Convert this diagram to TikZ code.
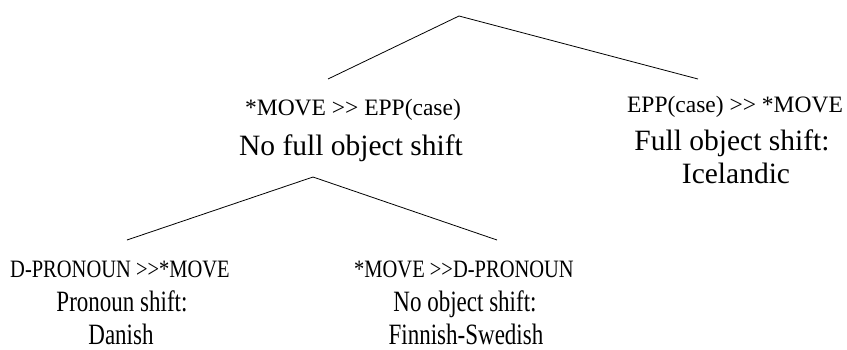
\documentclass[tikz,border=0pt]{standalone}
\usepackage{fontspec}
\setmainfont{Liberation Serif}
\usetikzlibrary{positioning}
\tikzstyle{ranking}=[font=\fontsize{23.5}{28}\selectfont, inner sep=0pt, anchor=base]
\tikzstyle{result}=[font=\fontsize{29.5}{33}\selectfont, inner sep=0pt, anchor=base]
\tikzstyle{branch} = [draw, line width=0.8pt]
\newcommand{\narrow}[2]{\scalebox{#1}[1]{#2}}
\begin{document}
\begin{tikzpicture}[x=1pt, y=-1pt]
  \useasboundingbox (0,0) rectangle (847,349);

  % upper split
  \coordinate (root) at (459,16);
  \coordinate (Lend) at (328,79);
  \coordinate (Rend) at (698,79);

  \node[ranking] (Lrank) at (353,115) {*MOVE >{}> EPP(case)};
  \node[result] (Lres) at (351,155) {No full object shift};

  \node[ranking] (Rrank) at (735,112) {EPP(case) >{}> *MOVE};
  \node[result] (Rres) at (732,150) {Full object shift:};
  \node[result] (Rlang) at (736,183) {Icelandic};

  % lower split
  \coordinate (mid) at (313,177);
  \coordinate (LLend) at (127,240);
  \coordinate (LRend) at (497,240);

  \node[ranking] (LLrank) at (120,277) {\narrow{0.82}{\fontsize{25}{28}\selectfont D-PRONOUN >{}>*MOVE}};
  \node[result] (LLres) at (122,311) {\narrow{0.78}{Pronoun shift:}};
  \node[result] (LLlang) at (121,344) {\narrow{0.78}{Danish}};

  \node[ranking] (LRrank) at (464,277) {\narrow{0.82}{\fontsize{25}{28}\selectfont *MOVE >{}>D-PRONOUN}};
  \node[result] (LRres) at (465,311) {\narrow{0.78}{No object shift:}};
  \node[result] (LRlang) at (466,344) {\narrow{0.78}{Finnish-Swedish}};

  \foreach \source/\dest in {root/Lend, root/Rend, mid/LLend, mid/LRend}
         \path[branch] (\source) -- (\dest);

\end{tikzpicture}
\end{document}
